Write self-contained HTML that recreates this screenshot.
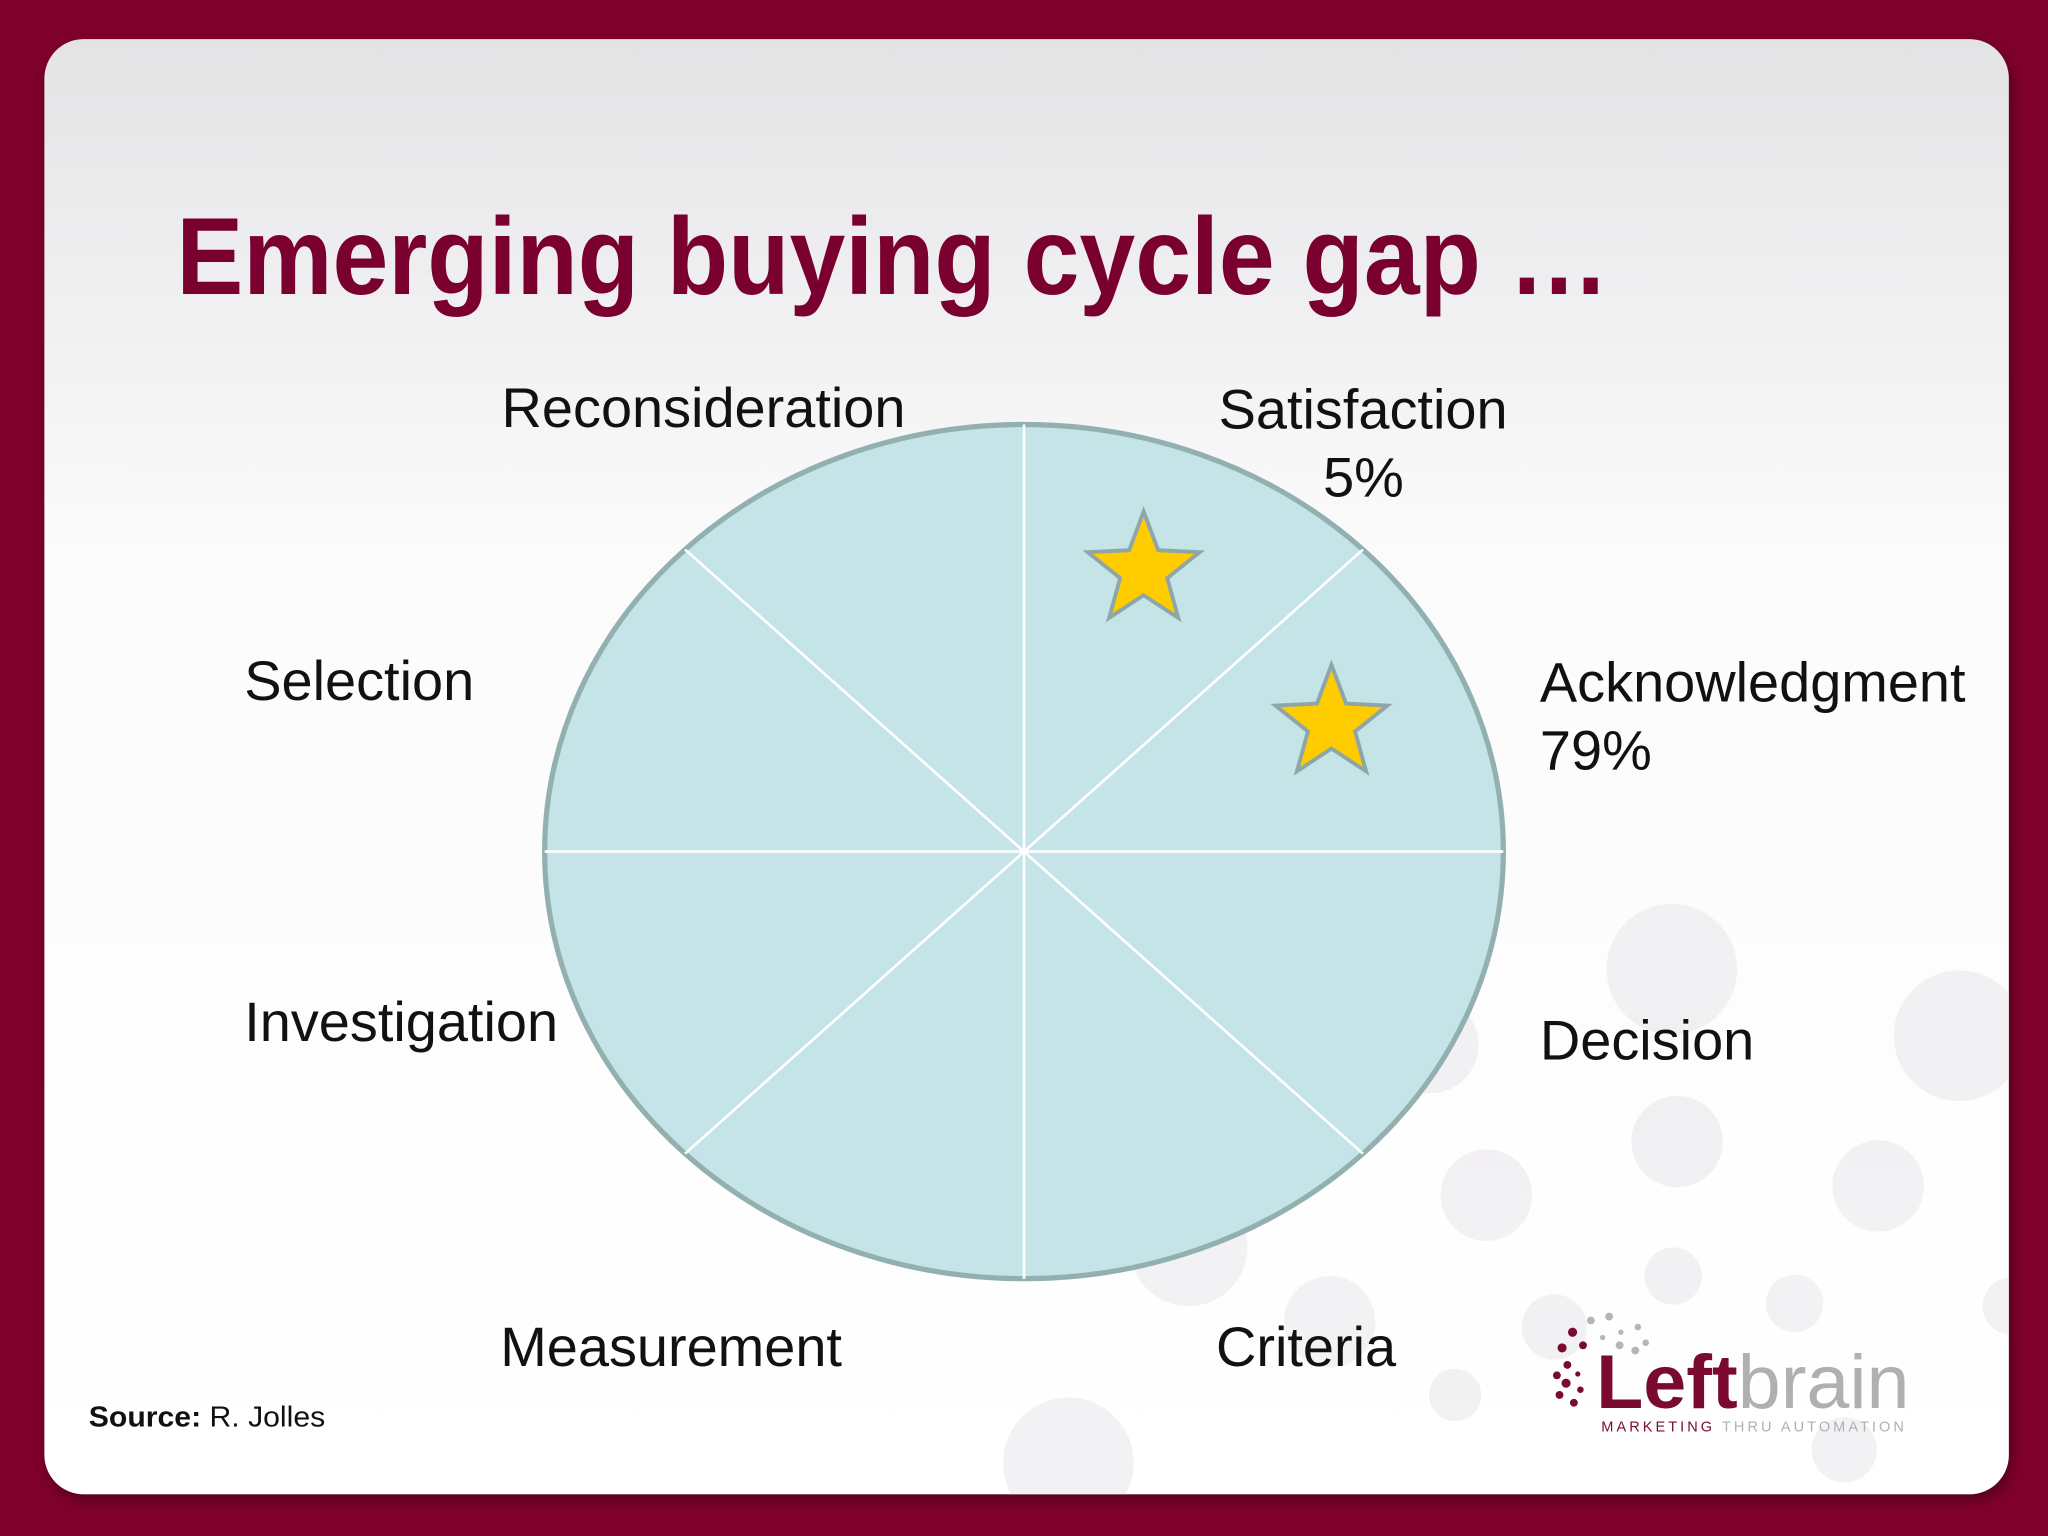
<!DOCTYPE html>
<html><head><meta charset="utf-8"><style>
html,body{margin:0;padding:0;background:#80002c;}
svg{display:block}
</style></head><body>
<svg width="2048" height="1536" viewBox="0 0 1568 1176" xmlns="http://www.w3.org/2000/svg" font-family="Liberation Sans, Arial, sans-serif">
<defs>
<linearGradient id="cardg" x1="0" y1="0" x2="0" y2="1">
<stop offset="0" stop-color="#e4e3e5"/><stop offset="0.35" stop-color="#fbfbfc"/><stop offset="1" stop-color="#ffffff"/>
</linearGradient>
<filter id="sh" x="-5%" y="-5%" width="110%" height="110%"><feDropShadow dx="2" dy="4" stdDeviation="5" flood-color="#300010" flood-opacity="0.6"/></filter>
<clipPath id="cardclip"><rect x="34" y="30" width="1504" height="1114" rx="30"/></clipPath>
</defs>
<rect x="0" y="0" width="1568" height="1176" fill="#80002c"/>
<rect x="34" y="30" width="1504" height="1114" rx="30" fill="url(#cardg)" filter="url(#sh)"/>
<g fill="#e9e8eb" opacity="0.6" clip-path="url(#cardclip)">
<circle cx="1280" cy="742" r="50"/><circle cx="1500" cy="793" r="50"/><circle cx="1284" cy="874" r="35"/><circle cx="1438" cy="908" r="35"/>
<circle cx="1138" cy="915" r="35"/><circle cx="1281" cy="977" r="22"/><circle cx="1374" cy="998" r="22"/><circle cx="1190" cy="1016" r="25"/>
<circle cx="1114" cy="1068" r="20"/><circle cx="1018" cy="1012" r="35"/><circle cx="910" cy="955" r="45"/><circle cx="1095" cy="800" r="37"/>
<circle cx="818" cy="1120" r="50"/><circle cx="1412" cy="1110" r="25"/><circle cx="1540" cy="1000" r="22"/>
</g>
<text x="135" y="225" font-size="84" font-weight="bold" fill="#7a0030" textLength="1097" lengthAdjust="spacingAndGlyphs">Emerging buying cycle gap …</text>
<g id="chart"></g>
<text x="68" y="1092" font-size="22" fill="#111" textLength="181" lengthAdjust="spacingAndGlyphs"><tspan font-weight="bold">Source:</tspan> R. Jolles</text>
<g>
<g fill="#7a0a32"><circle cx="1204" cy="1020" r="3.5"/><circle cx="1196" cy="1032" r="3.5"/><circle cx="1200" cy="1045" r="3"/><circle cx="1192" cy="1053" r="3"/><circle cx="1194" cy="1068" r="3"/><circle cx="1199" cy="1059" r="3.5"/><circle cx="1212" cy="1030" r="3"/><circle cx="1208" cy="1052" r="2"/><circle cx="1210" cy="1064" r="2.5"/><circle cx="1205" cy="1074" r="3"/></g>
<g fill="#b5b5b8"><circle cx="1218" cy="1011" r="3"/><circle cx="1232" cy="1008" r="3"/><circle cx="1240" cy="1030" r="3"/><circle cx="1252" cy="1034" r="3"/><circle cx="1227" cy="1024" r="2"/><circle cx="1241" cy="1020" r="2"/><circle cx="1254" cy="1016" r="2.5"/><circle cx="1260" cy="1028" r="2.5"/></g>
<text x="1222" y="1078" font-size="58" textLength="240" lengthAdjust="spacingAndGlyphs"><tspan fill="#7a0a32" font-weight="bold">Left</tspan><tspan fill="#b0b0b3">brain</tspan></text>
<text x="1226" y="1096" font-size="11" letter-spacing="2.3" textLength="234" lengthAdjust="spacingAndGlyphs"><tspan fill="#7a0a32">MARKETING</tspan><tspan fill="#b0b0b3"> THRU AUTOMATION</tspan></text>
</g>
</svg>
<script>
// Chart data
const stages = ["Satisfaction","Acknowledgment","Decision","Criteria","Measurement","Investigation","Selection","Reconsideration"];
const percents = ["5%","79%","","","","","",""];
const starAngles = [70,27];
const starRadii = [0.73,0.72];
const labelX = [933,1179,1179,931,383,187,187,384];
const labelY = [328,537,811,1046,1046,797,536,327];

const NS="http://www.w3.org/2000/svg";
const g=document.getElementById('chart');
const cx=784, cy=652, rx=367, ry=327;
function pt(angDeg,f){const a=angDeg*Math.PI/180;return [cx+rx*f*Math.cos(a), cy-ry*f*Math.sin(a)];}
function mk(tag,attrs){const e=document.createElementNS(NS,tag);for(const k in attrs)e.setAttribute(k,attrs[k]);g.appendChild(e);return e;}
const ell=mk('ellipse',{cx:cx,cy:cy,rx:rx,ry:ry,fill:'#c5e4e7',stroke:'#93b0b1','stroke-width':4});


const n=stages.length;
for(let i=0;i<n;i++){
  const ang=90-i*360/n;
  const p=pt(ang,1);
  const l=mk('line',{x1:cx,y1:cy,x2:p[0],y2:p[1],stroke:'#ffffff','stroke-width':2});
  
  
}
for(let i=0;i<n;i++){
  const t=mk('text',{x:labelX[i],y:labelY[i],'font-size':42.8,fill:'#111'});
  t.textContent=stages[i];
  
  
  if(percents[i]){
    const px = i===0 ? labelX[i]+80 : labelX[i];
    const p=mk('text',{x:px,y:labelY[i]+52,'font-size':42.8,fill:'#111'});
    p.textContent=percents[i];
    
    
  }
}
starAngles.forEach((ang,j)=>{
  const c=pt(ang,starRadii[j]);
  c[1]+=9;
  const R=45,r=19;let d='';
  for(let k=0;k<10;k++){const a=-Math.PI/2+k*Math.PI/5;const rr=k%2?r:R;d+=(k?'L':'M')+(c[0]+rr*Math.cos(a)).toFixed(1)+' '+(c[1]+rr*Math.sin(a)).toFixed(1);}
  const s=mk('path',{d:d+'Z',fill:'#ffcc00',stroke:'#8fa6a8','stroke-width':3,'stroke-linejoin':'miter'});
  
  
});
</script>
</body></html>
